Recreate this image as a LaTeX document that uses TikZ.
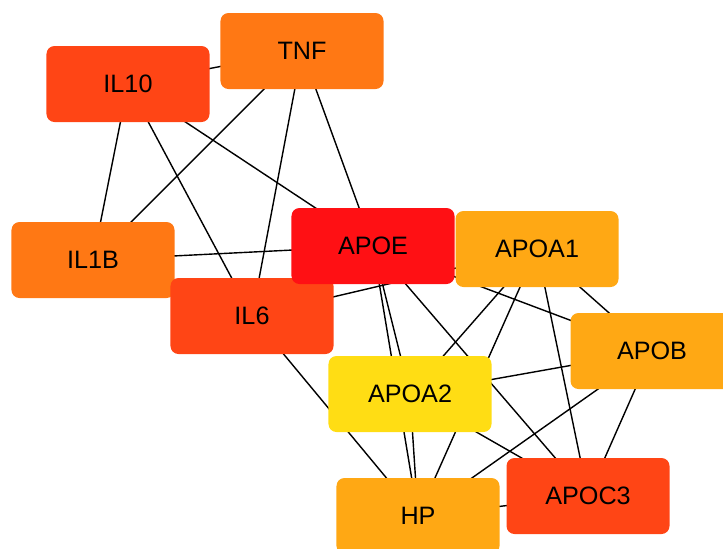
\documentclass[tikz,border=0pt]{standalone}
\usepackage{fontspec}
\setmainfont{Liberation Sans}
\usetikzlibrary{backgrounds}

\definecolor{degtop}{HTML}{FF1014}
\definecolor{deghigh}{HTML}{FF4515}
\definecolor{degmid}{HTML}{FF7814}
\definecolor{deglow}{HTML}{FFA814}
\definecolor{degmin}{HTML}{FFDD14}

\tikzset{
  gene/.style={draw=none, rounded corners=0.24cm, minimum width=4.89cm,
    minimum height=2.28cm, inner sep=0pt, font=\fontsize{21.5}{24}\selectfont},
  link/.style={line width=1.2pt, color=black}
}

\begin{document}
\begin{tikzpicture}[x=0.03cm, y=-0.03cm]

    \useasboundingbox (0,0) rectangle (723,548);

    \node [gene, fill=deghigh] (IL10) at (128,84) {IL10};
    \node [gene, fill=degmid] (TNF) at (302,51) {TNF};
    \node [gene, fill=degmid] (IL1B) at (93,260) {IL1B};
    \node [gene, fill=deghigh] (IL6) at (252,316) {IL6};
    \node [gene, fill=degtop] (APOE) at (373,246) {APOE};
    \node [gene, fill=deglow] (APOA1) at (537,249) {APOA1};
    \node [gene, fill=deglow] (APOB) at (652,351) {APOB};
    \node [gene, fill=degmin] (APOA2) at (410,394) {APOA2};
    \node [gene, fill=deglow] (HP) at (418,516) {HP};
    \node [gene, fill=deghigh] (APOC3) at (588,496) {APOC3};

    \begin{scope}[on background layer]
    \draw [link] (IL10.center) -- (TNF.center);
    \draw [link] (IL10.center) -- (IL1B.center);
    \draw [link] (IL10.center) -- (IL6.center);
    \draw [link] (IL10.center) -- (APOE.center);
    \draw [link] (TNF.center) -- (IL1B.center);
    \draw [link] (TNF.center) -- (IL6.center);
    \draw [link] (TNF.center) -- (APOE.center);
    \draw [link] (IL1B.center) -- (APOE.center);
    \draw [link] (IL6.center) -- (APOA1.center);
    \draw [link] (IL6.center) -- (HP.center);

    \draw [link] (APOE.center) -- (APOA2.center);
    \draw [link] (APOE.center) -- (HP.center);
    \draw [link] (APOE.center) -- (APOC3.center);
    \draw [link] (APOE.center) -- (APOB.center);
    \draw [link] (APOA1.center) -- (APOA2.center);
    \draw [link] (APOA1.center) -- (HP.center);
    \draw [link] (APOA1.center) -- (APOC3.center);
    \draw [link] (APOA1.center) -- (APOB.center);
    \draw [link] (APOB.center) -- (APOA2.center);
    \draw [link] (APOB.center) -- (HP.center);
    \draw [link] (APOB.center) -- (APOC3.center);
    \draw [link] (APOA2.center) -- (APOC3.center);
    \draw [link] (APOA2.center) -- (HP.center);
    \draw [link] (HP.center) -- (APOC3.center);
    \end{scope}

\end{tikzpicture}
\end{document}
